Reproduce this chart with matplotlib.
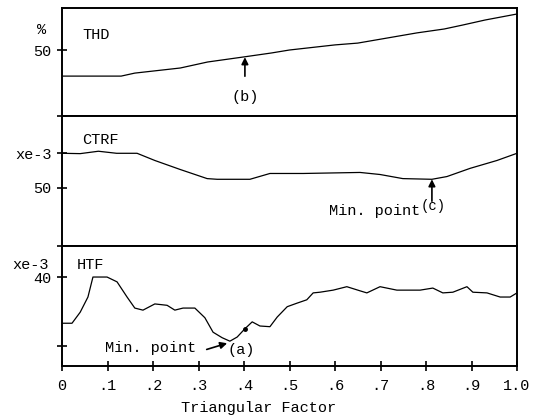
import matplotlib.pyplot as plt

# ------------------------------------------------------
# DATA
# ------------------------------------------------------
thd_x = [0, .13, .16, .26, .32, .40, .46, .50, .60, .65, .78, .84, .88, .93, 1.0]
thd_y = [41.3, 41.3, 42.3, 44.0, 46.0, 47.7, 49.0, 50.0, 51.7, 52.3, 55.7, 57.0, 58.3, 60.0, 62.0]

ctrf_x = [0, .04, .08, .12, .165, .204, .259, .319, .341, .413, .457, .530, .655, .699,
          .749, .813, .846, .897, .956, 1.0]
ctrf_y = [60.0, 59.9, 60.6, 60.0, 60.0, 57.9, 55.3, 52.6, 52.4, 52.4, 54.1, 54.1, 54.4, 53.8,
          52.6, 52.4, 53.2, 55.6, 57.9, 60.0]

htf_x = [0, .022, .040, .057, .068, .099, .121, .143, .160, .178, .204, .231, .248, .266,
         .292, .314, .332, .352, .369, .385, .402, .418, .435, .457, .473, .495, .516, .538,
         .552, .567, .596, .626, .655, .670, .699, .736, .787, .815, .837, .859, .890, .903,
         .934, .963, .985, 1.0]
htf_y = [33.3, 33.3, 34.9, 37.1, 40.0, 40.0, 39.3, 37.1, 35.5, 35.2, 36.1, 35.9, 35.2, 35.5,
         35.5, 34.1, 32.0, 31.2, 30.7, 31.3, 32.5, 33.5, 32.9, 32.8, 34.2, 35.7, 36.2, 36.7,
         37.7, 37.8, 38.1, 38.6, 38.0, 37.7, 38.6, 38.1, 38.1, 38.4, 37.7, 37.8, 38.6, 37.8,
         37.7, 37.1, 37.1, 37.7]

x_ticks = [0, .1, .2, .3, .4, .5, .6, .7, .8, .9, 1.0]
x_tick_labels = ['0', '.1', '.2', '.3', '.4', '.5', '.6', '.7', '.8', '.9', '1.0']

# ------------------------------------------------------
# FIGURE
# ------------------------------------------------------
mono = 'Liberation Mono'
plt.rcParams['font.family'] = mono
plt.rcParams['font.size'] = 11

fig = plt.figure(figsize=(5.38, 4.18), dpi=100)
left, width = 62 / 538, 455 / 538
ax_thd = fig.add_axes([left, 302 / 418, width, 108 / 418])
ax_ctrf = fig.add_axes([left, 172 / 418, width, 130 / 418], sharex=ax_thd)
ax_htf = fig.add_axes([left, 52 / 418, width, 120 / 418], sharex=ax_thd)

for ax in (ax_thd, ax_ctrf, ax_htf):
    for s in ax.spines.values():
        s.set_linewidth(1.4)
        s.set_color('black')
    ax.tick_params(axis='y', direction='inout', length=7, width=1.2, pad=4)
    ax.tick_params(axis='x', direction='inout', length=7, width=1.2)

ax_thd.plot(thd_x, thd_y, color='black', lw=0.9)
ax_ctrf.plot(ctrf_x, ctrf_y, color='black', lw=0.9)
ax_htf.plot(htf_x, htf_y, color='black', lw=0.9)
ax_htf.plot([.402], [32.5], 'o', color='black', ms=2.5)

ax_thd.set_xlim(0, 1.0)
ax_thd.set_ylim(28, 64)
ax_ctrf.set_ylim(32.9, 70.9)
ax_htf.set_ylim(27.1, 44.5)

ax_thd.set_yticks([50])
ax_thd.set_yticklabels(['50'])
ax_ctrf.set_yticks([32.9, 50, 60, 70.9])
ax_ctrf.set_yticklabels(['', '50', 'xe-3', ''])
ax_htf.set_yticks([30, 40])
ax_htf.set_yticklabels(['', '40'])

ax_thd.tick_params(axis='x', bottom=False, labelbottom=False)
ax_ctrf.tick_params(axis='x', bottom=False, labelbottom=False)
ax_htf.set_xticks(x_ticks)
ax_htf.set_xticklabels(x_tick_labels)
ax_htf.tick_params(axis='x', pad=6)
ax_htf.set_xlabel('Triangular Factor', labelpad=3)
ax_htf.xaxis.set_label_coords(0.433, -0.29)

# panel labels
ax_thd.text(0.044, 0.75, 'THD', transform=ax_thd.transAxes, va='center')
ax_thd.text(-0.035, 0.80, '%', transform=ax_thd.transAxes, ha='right', va='center')
ax_ctrf.text(0.044, 0.815, 'CTRF', transform=ax_ctrf.transAxes, va='center')
ax_htf.text(0.033, 0.842, 'HTF', transform=ax_htf.transAxes, va='center')
ax_htf.text(-0.03, 0.842, 'xe-3', transform=ax_htf.transAxes, ha='right', va='center')

# annotations
arrow = dict(arrowstyle='-|>', color='black', lw=1.2, mutation_scale=10)
ax_thd.annotate('(b)', xy=(.402, 47.6), xytext=(.402, 34.3), ha='center', va='center',
                arrowprops=dict(arrow, shrinkA=8, shrinkB=0))
ax_ctrf.annotate('', xy=(.813, 52.4), xytext=(.813, 46.0), arrowprops=dict(arrow, shrinkA=0, shrinkB=0))
ax_ctrf.text(.787, 43.2, 'Min. point', ha='right', va='center')
ax_ctrf.text(.789, 44.6, '(c)', ha='left', va='center', fontsize=10)
ax_htf.text(.095, 29.7, 'Min. point', ha='left', va='center')
ax_htf.annotate('', xy=(.363, 30.4), xytext=(.318, 29.5), arrowprops=dict(arrow, shrinkA=0, shrinkB=0))
ax_htf.text(.363, 29.4, '(a)', ha='left', va='center')

plt.savefig('out.png', dpi=100)
